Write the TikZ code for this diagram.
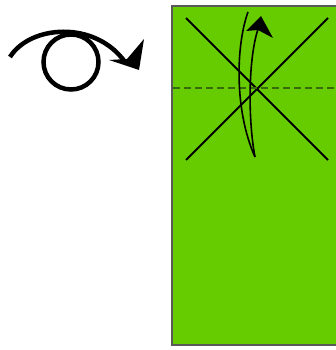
\documentclass[tikz,border=0pt]{standalone}
\usetikzlibrary{arrows.meta}
\definecolor{paper}{HTML}{66CC00}
\definecolor{crease}{HTML}{3A6A10}
\tikzset{
  sheet/.style={fill=paper,draw=black!65,line width=1.5pt},
  foldline/.style={black,line width=1.8pt},
  valley/.style={crease,line width=2.8pt,dash pattern=on 7pt off 4pt},
  movearrow/.style={black,line width=1.6pt},
  turnsym/.style={black,line width=4.5pt}
}
\begin{document}
\begin{tikzpicture}[x=1pt,y=-1pt]
\useasboundingbox (0,0) rectangle (336,350);
% paper
\draw[sheet] (172,6) rectangle (345,345);
\coordinate (a1) at (186,18);
\coordinate (a2) at (328,160);
\coordinate (b1) at (186,160);
\coordinate (b2) at (328,18);
\draw[foldline] (a1) -- (a2);
\draw[foldline] (b1) -- (b2);
\coordinate (d1) at (173,88);
\coordinate (d2) at (336,88);
\draw[valley] (d1) -- (d2);
% fold arrow
\coordinate (t) at (248,12);
\coordinate (bt) at (255,157);
\coordinate (ie) at (258,29);
\draw[movearrow] (t) .. controls (236,45) and (234,110) .. (bt);
\draw[movearrow] (bt) .. controls (248,120) and (248,60) .. (ie);
\coordinate (tip) at (261,16);
\coordinate (bl) at (246,31);
\coordinate (br) at (273,38);
\coordinate (nt) at (258,30);
\fill[black] (tip) -- (br) -- (nt) -- (bl) -- cycle;
% turn-over symbol
\node[circle,draw=black,line width=4.5pt,minimum size=55pt,inner sep=0pt] (c) at (71,62) {};
\coordinate (s) at (10,57);
\coordinate (e) at (125,62);
\draw[turnsym] (s) .. controls (30,25) and (95,20) .. (e);
\coordinate (h1) at (139,70);
\coordinate (h2) at (144,39);
\coordinate (h3) at (109,60);
\coordinate (hn) at (127,59);
\fill[black] (h1) -- (h2) -- (hn) -- (h3) -- cycle;
\end{tikzpicture}
\end{document}
